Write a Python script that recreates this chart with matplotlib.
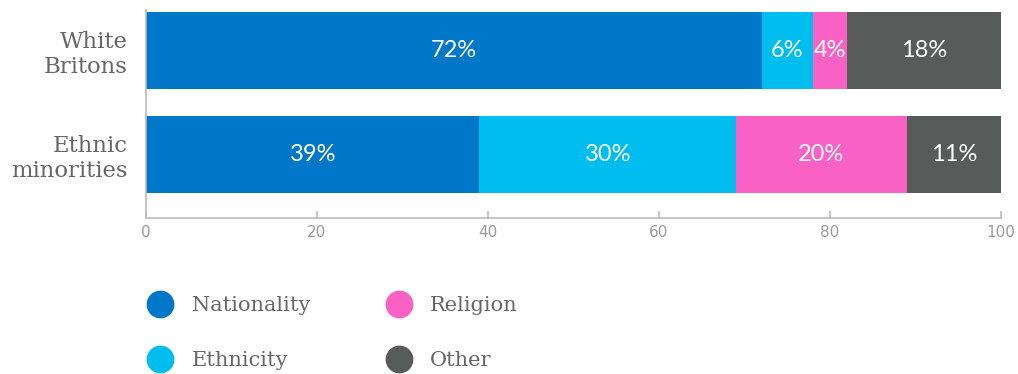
import numpy as np
import matplotlib.pyplot as plt
from matplotlib.lines import Line2D

# data
groups = ["White\nBritons", "Ethnic\nminorities"]
series = ["Nationality", "Ethnicity", "Religion", "Other"]
values = {
    "Nationality": [72, 39],
    "Ethnicity": [6, 30],
    "Religion": [4, 20],
    "Other": [18, 11],
}
colors = ["#0077C8", "#00BDEF", "#F961C4", "#575C5A"]

fig = plt.figure(figsize=(10.18, 3.74), dpi=100)
ax = fig.add_axes([146 / 1018, 1 - 218 / 374, 855 / 1018, 208 / 374])

ypos = np.array([1, 0])
left = np.zeros(len(groups))
for name, c in zip(series, colors):
    v = np.array(values[name])
    ax.barh(ypos, v, left=left, height=0.74, color=c, edgecolor="none")
    for y, l, w in zip(ypos, left, v):
        ax.text(l + w / 2, y, f"{w}%", ha="center", va="center",
                color="white", fontsize=17, family="Lato")
    left += v

ax.set_xlim(0, 100)
ax.set_ylim(-0.61, 1.39)
ax.set_yticks(ypos)
ax.set_yticklabels(groups, family="DejaVu Serif", fontsize=16.4,
                   color="#666666", linespacing=1.15)
ax.tick_params(axis="y", length=0, pad=13.5)
ax.set_xticks(np.arange(0, 101, 20))
ax.tick_params(axis="x", direction="in", length=5, width=1.2,
               color="#bbbbbb", labelcolor="#9a9a9a", labelsize=11, pad=5)
for s in ["top", "right"]:
    ax.spines[s].set_visible(False)
for s in ["left", "bottom"]:
    ax.spines[s].set_color("#bbbbbb")
    ax.spines[s].set_linewidth(1.2)

handles = [Line2D([], [], marker="o", linestyle="none", markersize=20,
                  markerfacecolor=c, markeredgecolor="none") for c in colors]
fig.legend(handles, series, loc="upper left",
           bbox_to_anchor=(150 / 1018, 1 - 296 / 374),
           ncol=2, frameon=False, borderpad=0, borderaxespad=0,
           handlelength=1.0, handletextpad=1.0, columnspacing=3.75,
           labelspacing=1.75, prop={"family": "DejaVu Serif", "size": 15},
           labelcolor="#666666")

fig.savefig("out.png", dpi=100)
